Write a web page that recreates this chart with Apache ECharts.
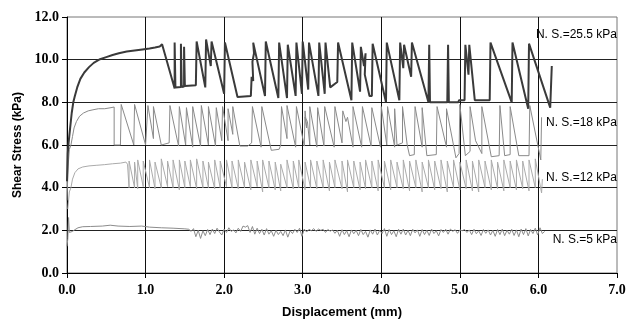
<!DOCTYPE html>
<html>
<head>
<meta charset="utf-8">
<script src="https://cdn.jsdelivr.net/npm/echarts@6/dist/echarts.min.js"></script>
<style>
html, body { margin: 0; padding: 0; background: #fff; }
#main { width: 633px; height: 321px; }
</style>
</head>
<body>
<div id="main"></div>
<script>
// N.S. = 25.5 kPa
var s255 = [
	[0.0,4.3],[0.01,5.6],[0.02,6.1],[0.04,6.8],[0.06,7.5],[0.08,8.0],[0.1,8.3],[0.13,8.7],[0.17,9.1],[0.22,9.4],
	[0.28,9.65],[0.34,9.85],[0.42,10.02],[0.5,10.12],[0.58,10.22],[0.66,10.3],[0.76,10.38],[0.86,10.43],[0.96,10.48],
	[1.05,10.52],[1.12,10.57],[1.18,10.62],[1.21,10.72],
	[1.37,8.65],[1.37,10.8],[1.38,8.7],[1.45,8.72],[1.45,10.75],[1.46,8.72],[1.49,8.74],[1.49,10.6],[1.5,8.76],
	[1.64,8.8],[1.65,10.85],[1.76,8.7],[1.77,10.95],[1.83,9.7],[1.84,10.85],[2.0,8.4],[2.01,10.8],[2.17,8.25],
	[2.34,8.3],[2.35,9.2],[2.37,9.0],[2.36,9.9],[2.38,10.3],[2.37,10.8],[2.52,8.3],[2.53,10.85],[2.69,8.2],[2.7,10.8],
	[2.8,8.2],[2.81,10.7],[2.91,8.3],[2.92,10.8],[2.99,8.4],[3.0,10.85],[3.07,8.6],[3.08,10.8],[3.2,8.3],[3.21,10.8],
	[3.28,8.4],[3.29,10.8],[3.35,8.7],[3.44,8.95],[3.45,10.8],[3.62,8.1],[3.63,10.8],[3.73,8.5],[3.74,10.6],[3.78,9.7],
	[3.8,10.3],[3.79,9.3],[3.85,8.3],[3.88,8.3],[3.89,10.75],[4.06,8.0],[4.07,10.8],[4.23,8.1],[4.24,10.8],[4.28,9.6],
	[4.29,10.7],[4.38,9.2],[4.39,10.8],[4.6,8.0],[4.61,10.7],[4.62,8.0],[4.84,8.0],[4.85,10.7],[4.86,8.0],[4.98,8.0],
	[4.99,8.1],[5.06,8.1],[5.07,10.7],[5.11,9.3],[5.12,10.7],[5.19,8.1],[5.38,8.1],[5.39,10.8],[5.66,8.0],[5.67,10.8],
	[5.87,7.7],[5.88,10.75],[6.15,7.75],[6.17,9.7]
];

// N.S. = 18 kPa
var s18 = [
	[0.0,3.4],[0.01,4.6],[0.02,5.3],[0.03,5.8],[0.05,6.0],[0.07,6.4],[0.09,6.8],[0.12,7.1],[0.16,7.35],[0.21,7.5],
	[0.27,7.6],[0.33,7.65],[0.4,7.7],[0.48,7.7],[0.56,7.75],[0.6,7.78],[0.6,6.0],[0.68,6.0],[0.69,7.9],
	[0.85,6.0],[0.86,7.9],[1.0,6.0],[1.02,6.0],[1.03,7.85],[1.1,6.3],[1.1,7.8],[1.2,6.0],[1.3,6.1],[1.31,7.85],
	[1.42,5.95],[1.43,7.8],[1.51,6.0],[1.52,7.75],[1.6,5.9],[1.6,7.8],[1.7,5.95],[1.71,7.85],[1.8,6.0],[1.8,7.8],
	[1.89,5.95],[1.9,7.75],[1.97,6.2],[1.98,7.8],[2.05,6.2],[2.05,7.7],[2.11,6.5],[2.11,7.8],[2.2,5.95],[2.3,5.95],
	[2.35,6.1],[2.36,7.8],[2.47,5.9],[2.48,7.8],[2.6,5.75],[2.7,5.8],[2.72,6.0],[2.73,7.8],[2.8,6.3],[2.8,7.85],
	[2.91,5.9],[2.92,7.8],[3.02,5.95],[3.03,7.6],[3.05,6.8],[3.03,7.3],[3.06,7.1],[3.09,6.0],[3.09,7.8],[3.18,5.9],
	[3.19,7.75],[3.27,5.95],[3.28,7.8],[3.4,5.9],[3.41,7.8],[3.5,6.1],[3.51,7.6],[3.55,7.1],[3.57,7.3],[3.64,5.9],
	[3.64,7.8],[3.75,5.9],[3.76,7.8],[3.87,5.95],[3.88,7.75],[3.99,5.9],[4.0,7.8],[4.07,6.0],[4.08,7.8],[4.17,5.9],
	[4.17,7.7],[4.2,6.0],[4.27,6.1],[4.27,7.8],[4.33,6.0],[4.36,5.5],[4.42,5.55],[4.43,7.8],[4.52,5.9],[4.52,7.75],
	[4.58,5.5],[4.7,5.55],[4.71,7.8],[4.83,5.9],[4.83,7.7],[4.95,5.4],[4.99,5.6],[5.0,7.9],[5.07,5.5],[5.13,5.7],
	[5.13,7.8],[5.2,6.2],[5.28,5.6],[5.28,7.8],[5.4,5.45],[5.5,5.5],[5.51,7.85],[5.57,5.5],[5.64,5.55],[5.64,7.8],
	[5.75,5.5],[5.88,5.5],[5.89,7.85],[6.03,5.3],[6.04,7.3]
];

// N.S. = 12 kPa
var s12 = [
	[0.01,3.0],[0.03,3.8],[0.05,4.0],[0.07,4.4],[0.1,4.7],[0.14,4.88],[0.2,4.97],[0.28,5.02],[0.38,5.05],[0.48,5.08],
	[0.58,5.12],[0.68,5.15],[0.75,5.2],[0.77,5.1],
	[0.79,4.0],[0.79,5.25],[0.86,4.0],[0.86,5.2],[0.9,3.95],[0.9,5.3],[0.97,4.05],[0.97,5.25],[1.05,4.0],[1.05,5.3],
	[1.12,3.95],[1.12,5.2],[1.2,4.0],[1.2,5.35],[1.28,4.05],[1.28,5.25],[1.35,4.0],[1.35,5.3],[1.43,3.9],[1.43,5.3],
	[1.5,4.0],[1.5,5.25],[1.57,4.05],[1.57,5.3],[1.65,3.95],[1.65,5.35],[1.73,4.0],[1.73,5.25],[1.8,4.0],[1.8,5.2],
	[1.88,3.95],[1.88,5.3],[1.95,4.0],[1.95,5.25],[2.03,4.05],[2.03,5.3],[2.1,4.0],[2.1,5.25],[2.18,3.95],[2.18,5.3],
	[2.26,4.0],[2.26,5.2],[2.34,3.9],[2.34,5.3],[2.42,4.05],[2.42,5.25],[2.49,3.8],[2.49,5.3],[2.57,4.0],[2.57,5.25],
	[2.65,3.9],[2.65,5.2],[2.72,3.85],[2.72,5.1],[2.8,4.0],[2.8,5.3],[2.88,3.95],[2.88,5.25],[2.95,4.0],[2.95,5.3],
	[3.03,3.9],[3.03,5.2],[3.1,4.0],[3.1,5.3],[3.18,3.95],[3.18,5.25],[3.26,4.0],[3.26,5.3],[3.34,3.85],[3.34,5.2],
	[3.41,4.0],[3.41,5.3],[3.5,3.95],[3.5,5.25],[3.57,3.8],[3.57,5.3],[3.65,4.0],[3.65,5.25],[3.73,3.9],[3.73,5.2],
	[3.8,3.95],[3.8,5.3],[3.88,4.0],[3.88,5.25],[3.96,3.85],[3.96,5.3],[4.04,4.0],[4.04,5.25],[4.12,3.9],[4.12,5.3],
	[4.2,4.0],[4.2,5.2],[4.28,3.95],[4.28,5.3],[4.36,3.85],[4.36,5.25],[4.44,4.0],[4.44,5.3],[4.52,3.8],[4.52,5.2],
	[4.6,4.0],[4.6,5.3],[4.68,3.9],[4.68,5.25],[4.76,3.95],[4.76,5.3],[4.84,3.8],[4.84,5.25],[4.92,4.0],[4.92,5.3],
	[5.0,3.9],[5.0,5.2],[5.08,3.95],[5.08,5.3],[5.16,3.85],[5.16,5.25],[5.24,3.8],[5.24,5.3],[5.32,4.0],[5.32,5.25],
	[5.4,3.9],[5.4,5.3],[5.48,3.95],[5.48,5.2],[5.56,3.85],[5.56,5.3],[5.64,4.0],[5.64,5.25],[5.72,3.9],[5.72,5.3],
	[5.8,3.95],[5.8,5.25],[5.88,3.85],[5.88,5.3],[5.96,4.0],[5.96,5.35],[6.04,3.75],[6.05,4.4]
];

// N.S. = 5 kPa
var s5 = [
	[0.0,1.25],[0.01,1.6],[0.02,2.6],[0.03,1.9],[0.05,1.85],[0.07,1.95],[0.1,2.03],[0.14,2.12],[0.2,2.17],[0.3,2.18],
	[0.45,2.2],[0.55,2.24],[0.65,2.2],[0.8,2.18],[0.95,2.2],[1.05,2.15],[1.2,2.12],[1.35,2.1],[1.5,2.07],
	[1.55,2.05],[1.58,1.95],[1.61,2.08],[1.64,1.7],[1.67,2.0],[1.7,1.62],[1.73,1.98],[1.76,1.75],[1.79,2.04],[1.82,1.8],
	[1.85,2.06],[1.88,1.85],[1.91,2.1],[1.94,1.92],[1.97,1.78],[2.0,2.06],[2.03,1.9],[2.06,2.12],[2.09,1.95],[2.12,2.02],
	[2.15,1.88],[2.18,2.1],[2.21,1.95],[2.24,2.2],[2.27,2.15],[2.3,2.22],[2.33,1.9],[2.36,2.18],[2.39,1.82],[2.42,2.1],
	[2.45,1.85],[2.48,2.05],[2.51,1.78],[2.54,2.08],[2.57,1.82],[2.6,1.98],[2.63,1.72],[2.66,2.0],[2.69,1.8],[2.72,1.95],
	[2.75,1.75],[2.78,2.02],[2.81,1.68],[2.84,1.98],[2.87,1.85],[2.9,2.05],[2.93,1.9],[2.96,2.1],[2.99,1.72],[3.02,2.06],
	[3.05,1.92],[3.08,2.05],[3.11,1.98],[3.14,2.08],[3.17,1.95],[3.2,2.06],[3.23,2.0],[3.26,2.05],[3.29,1.9],[3.32,2.04],
	[3.35,1.96],[3.38,2.02],[3.41,1.86],[3.44,2.0],[3.47,1.72],[3.5,2.03],[3.53,1.8],[3.56,1.98],[3.59,1.7],[3.62,2.02],
	[3.65,1.84],[3.68,2.0],[3.71,1.75],[3.74,2.04],[3.77,1.8],[3.8,1.95],[3.83,1.68],[3.86,2.02],[3.89,1.82],[3.92,2.06],
	[3.95,1.78],[3.98,2.0],[4.01,1.85],[4.04,2.08],[4.07,1.72],[4.1,2.04],[4.13,1.8],[4.16,1.98],[4.19,1.7],[4.22,2.05],
	[4.25,1.82],[4.28,2.06],[4.31,1.78],[4.34,2.0],[4.37,1.75],[4.4,2.05],[4.43,1.88],[4.46,2.02],[4.49,1.72],[4.52,2.04],
	[4.55,1.8],[4.58,2.0],[4.61,1.76],[4.64,2.06],[4.67,1.85],[4.7,1.98],[4.73,1.74],[4.76,2.04],[4.79,1.9],[4.82,2.05],
	[4.85,1.82],[4.88,2.06],[4.91,1.95],[4.94,2.03],[4.97,1.86],[5.0,2.02],[5.03,1.98],[5.06,2.04],[5.09,1.9],[5.12,2.02],
	[5.15,1.8],[5.18,2.05],[5.21,1.84],[5.24,1.98],[5.27,1.76],[5.3,2.04],[5.33,1.86],[5.36,2.02],[5.39,1.78],[5.42,2.0],
	[5.45,1.72],[5.48,2.04],[5.51,1.8],[5.54,2.06],[5.57,1.75],[5.6,2.0],[5.63,1.82],[5.66,2.05],[5.69,1.76],[5.72,2.02],
	[5.75,1.7],[5.78,2.06],[5.81,1.8],[5.84,2.08],[5.87,1.74],[5.9,2.04],[5.93,1.85],[5.96,2.1],[5.99,1.78],[6.02,2.12],
	[6.05,1.85],[6.08,1.95]
];

// labels at the right edge
var labelNames = ['N. S.=25.5 kPa', 'N. S.=18 kPa', 'N. S.=12 kPa', 'N. S.=5 kPa'];
var labelY = [11.16, 7.04, 4.46, 1.56];
var labelX = 7.0;

var seriesData = [s255, s18, s12, s5];
var seriesColors = ['#3a3a3a', '#8a8a8a', '#ababab', '#8c8c8c'];
var seriesWidths = [2, 1, 1, 1];

var tickFont = {
	color: '#000',
	fontFamily: 'Liberation Serif',
	fontWeight: 'bold',
	fontSize: 14
};

var chart = echarts.init(document.getElementById('main'));
var option = {
	animation: false,
	backgroundColor: '#fff',
	grid: {
		left: 67,
		right: 16,
		top: 17,
		bottom: 48,
		show: true,
		borderColor: '#777',
		borderWidth: 1,
		containLabel: false,
		outerBoundsMode: 'none'
	},
	xAxis: {
		type: 'value',
		min: 0,
		max: 7,
		interval: 1,
		name: 'Displacement (mm)',
		nameLocation: 'middle',
		nameGap: 33,
		nameTextStyle: {
			color: '#000',
			fontFamily: 'Liberation Sans',
			fontWeight: 'bold',
			fontSize: 13
		},
		axisLine: { lineStyle: { color: '#000', width: 1 } },
		axisTick: { show: true, length: 5, lineStyle: { color: '#000' } },
		axisLabel: Object.assign({ margin: 10, formatter: function (v) { return v.toFixed(1); } }, tickFont),
		splitLine: { show: true, showMaxLine: false, lineStyle: { color: '#111', width: 1 } }
	},
	yAxis: {
		type: 'value',
		min: 0,
		max: 12,
		interval: 2,
		name: 'Shear Stress (kPa)',
		nameLocation: 'middle',
		nameGap: 42,
		nameTextStyle: {
			color: '#000',
			fontFamily: 'Liberation Sans',
			fontWeight: 'bold',
			fontSize: 12
		},
		axisLine: { show: true, lineStyle: { color: '#000', width: 1 } },
		axisTick: { show: true, length: 5, lineStyle: { color: '#000' } },
		axisLabel: Object.assign({ margin: 8, formatter: function (v) { return v.toFixed(1); } }, tickFont),
		splitLine: { show: true, showMaxLine: false, lineStyle: { color: '#222', width: 1 } }
	},
	series: seriesData.map(function (d, i) {
		return {
			type: 'line',
			data: d,
			showSymbol: false,
			symbol: 'none',
			z: 10 - i,
			lineStyle: { color: seriesColors[i], width: seriesWidths[i] }
		};
	})
};
chart.setOption(option);

var texts = labelNames.map(function (t, i) {
	var p = chart.convertToPixel({ gridIndex: 0 }, [labelX, labelY[i]]);
	return {
		type: 'text',
		x: p[0],
		y: p[1],
		z: 100,
		style: {
			text: t,
			font: '12px "Liberation Sans"',
			fill: '#000',
			align: 'right',
			verticalAlign: 'middle'
		}
	};
});
chart.setOption({ graphic: texts });
</script>
</body>
</html>
